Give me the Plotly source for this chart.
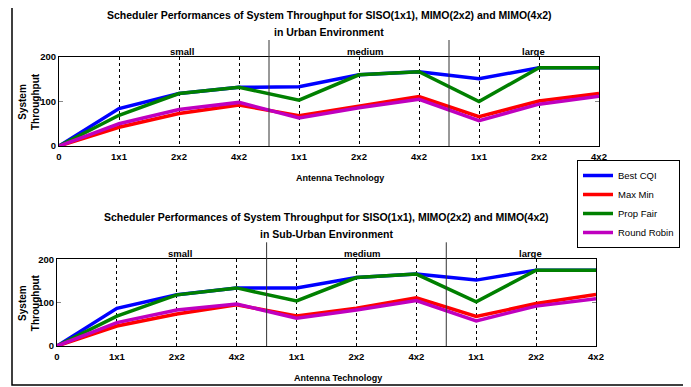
import plotly.graph_objects as go

# page has an 8px body margin, so the figure occupies 683x379 starting at (8, 8)
OFF = 8
W, H = 691 - OFF, 387 - OFF

tick_labels = ["0", "1x1", "2x2", "4x2", "1x1", "2x2", "4x2", "1x1", "2x2", "4x2"]
groups = ["small", "medium", "large"]
group_centers = [2.05, 5.1, 7.9]
group_bounds = [3.5, 6.5]
series_names = ["Best CQI", "Max Min", "Prop Fair", "Round Robin"]
colors = ["#0000FF", "#FF0000", "#008000", "#BF00BF"]

urban_best_cqi = [0, 84, 118, 132, 133, 160, 167, 151, 176, 176]
urban_max_min = [0, 42, 73, 92, 68, 90, 111, 66, 101, 118]
urban_prop_fair = [0, 69, 118, 132, 103, 160, 167, 100, 176, 176]
urban_round_robin = [0, 50, 82, 98, 63, 86, 105, 57, 94, 112]

suburban_best_cqi = [0, 87, 118, 134, 134, 158, 166, 152, 175, 175]
suburban_max_min = [0, 46, 74, 95, 69, 87, 111, 68, 98, 119]
suburban_prop_fair = [0, 69, 118, 134, 104, 158, 166, 102, 175, 175]
suburban_round_robin = [0, 54, 83, 97, 64, 83, 105, 58, 92, 109]

title_line1 = "Scheduler Performances of System Throughput for SISO(1x1), MIMO(2x2) and MIMO(4x2)"
title_line2 = ["in Urban Environment", "in Sub-Urban Environment"]

FONT = "Liberation Sans Narrow, Arial Narrow, Liberation Sans, Arial"


def px(x):
    return (x - OFF) / W


def py(y):
    return 1 - (y - OFF) / H


fig = go.Figure()
data_sets = [
    [urban_best_cqi, urban_max_min, urban_prop_fair, urban_round_robin],
    [suburban_best_cqi, suburban_max_min, suburban_prop_fair, suburban_round_robin],
]
xs = list(range(len(tick_labels)))
for p, ds in enumerate(data_sets):
    for i, (name, vals) in enumerate(zip(series_names, ds)):
        fig.add_trace(go.Scatter(
            x=xs, y=vals, mode="lines", name=name,
            line=dict(color=colors[i], width=3.5),
            xaxis="x" if p == 0 else "x2", yaxis="y" if p == 0 else "y2",
            showlegend=(p == 0),
        ))

# pixel boxes in the page: (left, right, top, bottom)
boxes = [(59, 599, 57, 146), (57, 596, 259.3, 346)]

axis_common_x = dict(
    range=[0, len(tick_labels) - 1], tickmode="array", tickvals=xs, ticktext=tick_labels,
    showline=True, linecolor="black", linewidth=1, mirror=True,
    showgrid=True, gridcolor="black", gridwidth=1, griddash="3px,3px",
    ticks="", ticklabelstandoff=2,
    tickfont=dict(family=FONT, size=9.5, color="black", weight="bold"),
    zeroline=False, fixedrange=True,
)
axis_common_y = dict(
    range=[0, 200], tickvals=[0, 100, 200],
    showline=True, linecolor="black", linewidth=1, mirror="ticks",
    showgrid=False, ticks="inside", ticklen=4, tickcolor="#888888",
    tickfont=dict(family=FONT, size=9.5, color="black", weight="bold"),
    zeroline=False, fixedrange=True,
)

fig.update_layout(
    xaxis=dict(domain=[px(boxes[0][0]), px(boxes[0][1])], anchor="y", **axis_common_x),
    yaxis=dict(domain=[py(boxes[0][3]), py(boxes[0][2])], anchor="x", **axis_common_y),
    xaxis2=dict(domain=[px(boxes[1][0]), px(boxes[1][1])], anchor="y2", **axis_common_x),
    yaxis2=dict(domain=[py(boxes[1][3]), py(boxes[1][2])], anchor="x2", **axis_common_y),
)

annotations = []
shapes = []
n1 = len(tick_labels) - 1
for p, (l, r, t, b) in enumerate(boxes):
    xr = "x" if p == 0 else "x2"
    yr = "y" if p == 0 else "y2"
    cx = px((l + r) / 2)
    # title lines
    annotations.append(dict(
        text="<b>" + title_line1 + "</b>", xref="paper", yref="paper",
        x=cx, y=py(t - 42), xanchor="center", yanchor="middle", showarrow=False,
        font=dict(family=FONT, size=10.5, color="black"),
    ))
    annotations.append(dict(
        text="<b>" + title_line2[p] + "</b>", xref="paper", yref="paper",
        x=cx, y=py(t - 25), xanchor="center", yanchor="middle", showarrow=False,
        font=dict(family=FONT, size=10.5, color="black"),
    ))
    # x title
    annotations.append(dict(
        text="<b>Antenna Technology</b>", xref="paper", yref="paper",
        x=px((l + r) / 2 + 11), y=py(b + 32), xanchor="center", yanchor="middle",
        showarrow=False, font=dict(family=FONT, size=9, color="black"),
    ))
    # y title
    annotations.append(dict(
        text="<b>System<br>Throughput</b>", xref="paper", yref="paper",
        x=px(28.5), y=py((t + b) / 2), xanchor="center", yanchor="middle",
        textangle=-90, showarrow=False, font=dict(family=FONT, size=10, color="black"),
    ))
    # group labels
    for g, c in zip(groups, group_centers):
        annotations.append(dict(
            text=g, xref=xr, yref=yr + " domain", x=c, y=1, xanchor="center",
            yanchor="bottom", yshift=-2, showarrow=False,
            font=dict(family=FONT, size=9.5, color="black", weight="bold"),
        ))
    # group separators
    for gb in group_bounds:
        shapes.append(dict(
            type="line", xref=xr + " domain", yref=yr + " domain",
            x0=gb / n1, x1=gb / n1, y0=0, y1=1 + 17 / (b - t),
            line=dict(color="#333333", width=1),
        ))

# outer frame
shapes.append(dict(type="rect", xref="paper", yref="paper",
                   x0=px(12), x1=px(685), y0=py(385), y1=py(5),
                   line=dict(color="black", width=1.5)))

fig.update_layout(
    width=W, height=H, margin=dict(l=0, r=0, t=0, b=0, autoexpand=False),
    paper_bgcolor="white", plot_bgcolor="white",
    annotations=annotations, shapes=shapes,
    legend=dict(
        x=px(680), y=py(204), xanchor="right", yanchor="middle",
        bgcolor="white", bordercolor="black", borderwidth=1,
        font=dict(family=FONT, size=9.5, color="black"),
        tracegroupgap=0, itemwidth=30,
    ),
    showlegend=True,
)

fig.write_html("out.html")
